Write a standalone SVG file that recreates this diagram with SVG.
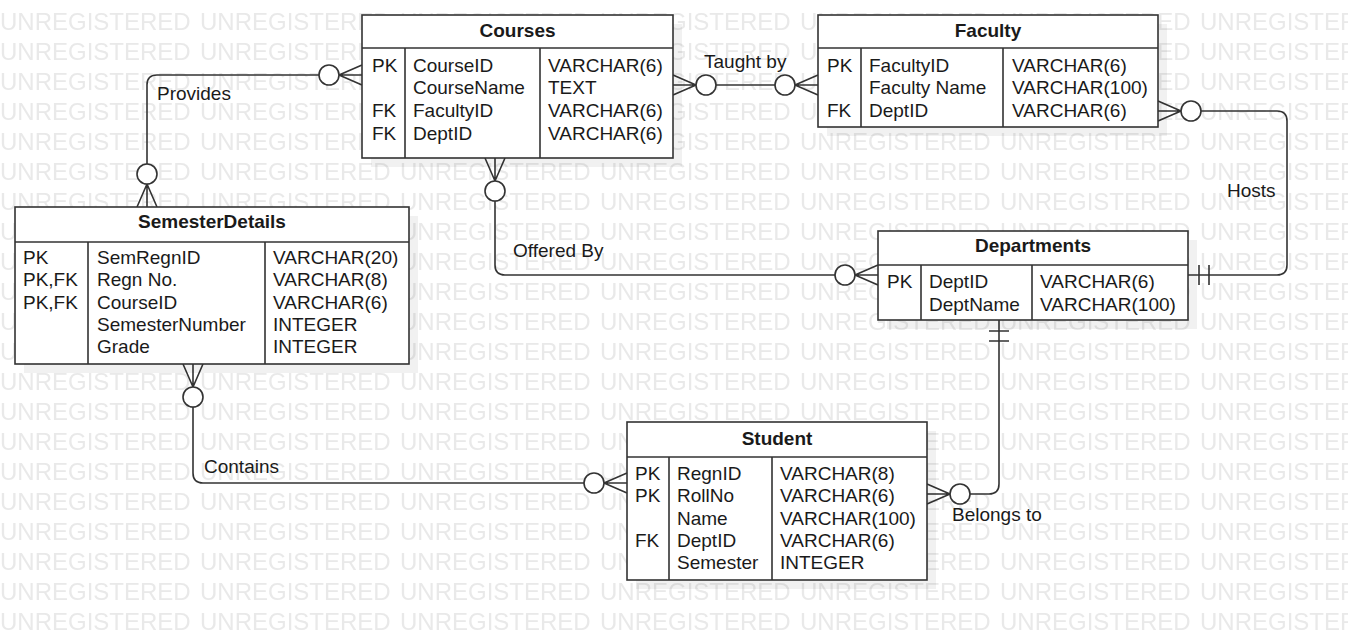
<svg xmlns="http://www.w3.org/2000/svg" xmlns:xlink="http://www.w3.org/1999/xlink" width="1348" height="640" viewBox="0 0 1348 640">
<style>
.box{fill:#fff;stroke:#333;stroke-width:1.6}
.sh{fill:#000;fill-opacity:0.055}
.ln{fill:none;stroke:#333;stroke-width:1.6}
.t{font-family:"Liberation Sans",Arial,sans-serif;font-size:19px;fill:#1a1a1a}
.h{font-weight:bold;text-anchor:middle}
.wm{font-family:"Liberation Sans",Arial,sans-serif;font-size:24px;fill:#e9e9e9}
</style>
<defs>
<pattern id="wmp" patternUnits="userSpaceOnUse" x="0" y="0" width="200" height="30">
<text class="wm" x="0" y="29.5">UNREGISTERED</text>
</pattern>
<g id="zm">
<path class="ln" d="M -23 0 L 0 -10 M -23 0 L 0 10 M -23 0 L 0 0"/>
<circle cx="-33" cy="0" r="10" fill="#fff" stroke="#333" stroke-width="1.6"/>
</g>
<g id="mo">
<path class="ln" d="M -22 0 L 0 0 M -11 -10 L -11 10 M -21 -10 L -21 10"/>
</g>
</defs>
<rect width="1348" height="640" fill="#fff"/>
<rect width="1348" height="640" fill="url(#wmp)"/>

<g id="connectors">
<path class="ln" d="M 319 75 H 157 Q 147 75 147 85 V 164"/>
<path class="ln" d="M 716 85 H 775"/>
<path class="ln" d="M 1201 111 H 1277 Q 1287 111 1287 121 V 265 Q 1287 275 1277 275 H 1210"/>
<path class="ln" d="M 495 201 V 265 Q 495 275 505 275 H 835"/>
<path class="ln" d="M 999 342 V 484 Q 999 494 989 494 H 970"/>
<path class="ln" d="M 193 407 V 473 Q 193 483 203 483 H 584"/>
<use xlink:href="#zm" transform="translate(362,75)"/>
<use xlink:href="#zm" transform="translate(147,207) rotate(90)"/>
<use xlink:href="#zm" transform="translate(673,85) rotate(180)"/>
<use xlink:href="#zm" transform="translate(818,85)"/>
<use xlink:href="#zm" transform="translate(1158,111) rotate(180)"/>
<use xlink:href="#mo" transform="translate(1188,275) rotate(180)"/>
<use xlink:href="#zm" transform="translate(495,158) rotate(-90)"/>
<use xlink:href="#zm" transform="translate(878,275)"/>
<use xlink:href="#mo" transform="translate(999,320) rotate(-90)"/>
<use xlink:href="#zm" transform="translate(927,494) rotate(180)"/>
<use xlink:href="#zm" transform="translate(193,364) rotate(-90)"/>
<use xlink:href="#zm" transform="translate(627,483)"/>
<text class="t" x="157" y="100">Provides</text>
<text class="t" x="704" y="68">Taught by</text>
<text class="t" x="1227" y="197">Hosts</text>
<text class="t" x="513" y="257">Offered By</text>
<text class="t" x="952" y="521">Belongs to</text>
<text class="t" x="204" y="473">Contains</text>
</g>

<g id="courses">
<rect class="sh" x="371" y="24" width="311" height="143"/>
<rect class="box" x="362" y="15" width="311" height="143"/>
<path class="ln" d="M 362 48 H 673 M 405 48 V 158 M 540 48 V 158"/>
<text class="t h" x="517.5" y="37">Courses</text>
<text class="t" x="372" y="71.5">PK</text>
<text class="t" x="372" y="116.9">FK</text>
<text class="t" x="372" y="139.6">FK</text>
<text class="t" x="413" y="71.5">CourseID</text>
<text class="t" x="413" y="94.2">CourseName</text>
<text class="t" x="413" y="116.9">FacultyID</text>
<text class="t" x="413" y="139.6">DeptID</text>
<text class="t" x="548" y="71.5">VARCHAR(6)</text>
<text class="t" x="548" y="94.2">TEXT</text>
<text class="t" x="548" y="116.9">VARCHAR(6)</text>
<text class="t" x="548" y="139.6">VARCHAR(6)</text>
</g>

<g id="faculty">
<rect class="sh" x="827" y="24" width="340" height="112"/>
<rect class="box" x="818" y="15" width="340" height="112"/>
<path class="ln" d="M 818 48 H 1158 M 861 48 V 127 M 1003 48 V 127"/>
<text class="t h" x="988" y="37">Faculty</text>
<text class="t" x="827" y="71.5">PK</text>
<text class="t" x="827" y="116.9">FK</text>
<text class="t" x="869" y="71.5">FacultyID</text>
<text class="t" x="869" y="94.2">Faculty Name</text>
<text class="t" x="869" y="116.9">DeptID</text>
<text class="t" x="1012" y="71.5">VARCHAR(6)</text>
<text class="t" x="1012" y="94.2">VARCHAR(100)</text>
<text class="t" x="1012" y="116.9">VARCHAR(6)</text>
</g>

<g id="semesterdetails">
<rect class="sh" x="24" y="216" width="394" height="157"/>
<rect class="box" x="15" y="207" width="394" height="157"/>
<path class="ln" d="M 15 242 H 409 M 88 242 V 364 M 265 242 V 364"/>
<text class="t h" x="212" y="228">SemesterDetails</text>
<text class="t" x="23" y="264">PK</text>
<text class="t" x="23" y="286.3">PK,FK</text>
<text class="t" x="23" y="308.6">PK,FK</text>
<text class="t" x="97" y="264">SemRegnID</text>
<text class="t" x="97" y="286.3">Regn No.</text>
<text class="t" x="97" y="308.6">CourseID</text>
<text class="t" x="97" y="330.9">SemesterNumber</text>
<text class="t" x="97" y="353.2">Grade</text>
<text class="t" x="273" y="264">VARCHAR(20)</text>
<text class="t" x="273" y="286.3">VARCHAR(8)</text>
<text class="t" x="273" y="308.6">VARCHAR(6)</text>
<text class="t" x="273" y="330.9">INTEGER</text>
<text class="t" x="273" y="353.2">INTEGER</text>
</g>

<g id="departments">
<rect class="sh" x="887" y="240" width="310" height="89"/>
<rect class="box" x="878" y="231" width="310" height="89"/>
<path class="ln" d="M 878 265 H 1188 M 921 265 V 320 M 1032 265 V 320"/>
<text class="t h" x="1033" y="252">Departments</text>
<text class="t" x="887" y="288">PK</text>
<text class="t" x="929" y="288">DeptID</text>
<text class="t" x="929" y="310.5">DeptName</text>
<text class="t" x="1040" y="288">VARCHAR(6)</text>
<text class="t" x="1040" y="310.5">VARCHAR(100)</text>
</g>

<g id="student">
<rect class="sh" x="636" y="431" width="300" height="158"/>
<rect class="box" x="627" y="422" width="300" height="158"/>
<path class="ln" d="M 627 457 H 927 M 669 457 V 580 M 772 457 V 580"/>
<text class="t h" x="777" y="445">Student</text>
<text class="t" x="635" y="480">PK</text>
<text class="t" x="635" y="502.3">PK</text>
<text class="t" x="635" y="546.9">FK</text>
<text class="t" x="677" y="480">RegnID</text>
<text class="t" x="677" y="502.3">RollNo</text>
<text class="t" x="677" y="524.6">Name</text>
<text class="t" x="677" y="546.9">DeptID</text>
<text class="t" x="677" y="569.2">Semester</text>
<text class="t" x="780" y="480">VARCHAR(8)</text>
<text class="t" x="780" y="502.3">VARCHAR(6)</text>
<text class="t" x="780" y="524.6">VARCHAR(100)</text>
<text class="t" x="780" y="546.9">VARCHAR(6)</text>
<text class="t" x="780" y="569.2">INTEGER</text>
</g>
</svg>
